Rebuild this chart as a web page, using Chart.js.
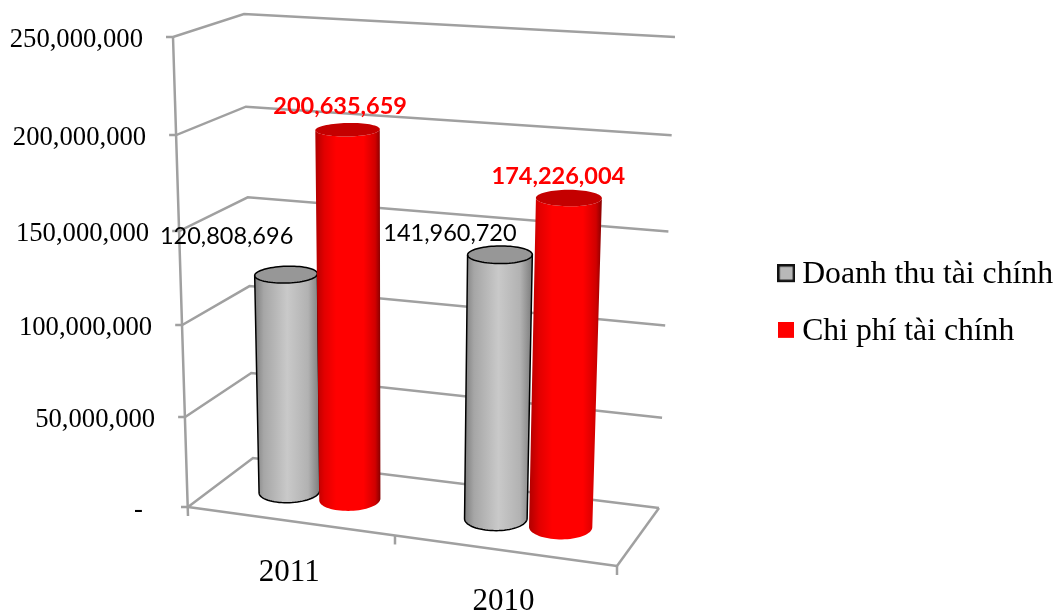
<!DOCTYPE html>
<html>
<head>
<meta charset="utf-8">
<title>Doanh thu và chi phí tài chính</title>
<script src="https://cdn.jsdelivr.net/npm/chart.js@4/dist/chart.umd.js"></script>
<style>
	html, body { margin: 0; padding: 0; background: #fff; }
	canvas { display: block; }
</style>
</head>
<body>
<canvas id="financeChart" width="1057" height="612"></canvas>
<script>
var categories = ['2011', '2010'];
var revenue = [120808696, 141960720];
var expense = [200635659, 174226004];
var yTickLabels = ['-', '50,000,000', '100,000,000', '150,000,000', '200,000,000', '250,000,000'];
var seriesNames = ['Doanh thu tài chính', 'Chi phí tài chính'];

var SERIF = '"Liberation Serif", serif';
var GRID = '#a0a0a0';

// box corners of the 3D scene, named by front/back, left/right, floor/roof
var box = {
	flf: [188, 507], frf: [617, 566], blf: [253, 458], brf: [659, 508],
	flr: [173, 37], frr: [636, 67], blr: [244, 14], brr: [675, 37]
};

var RADIUS_DEPTH = 0.21;
var BAR_DEPTH = 0.5;

// value label offsets from the centre of each cap, per dataset and category
var labelOffsets = [
	[[-59.5, -31], [-50, -14]],
	[[-7.5, -16], [-10.5, -14]]
];

function warp(t, k) {
	return t / (1 + k * (1 - t));
}

function mix(a, b, t) {
	return [a[0] + (b[0] - a[0]) * t, a[1] + (b[1] - a[1]) * t];
}

// u across, v up, d into the scene, all 0..1
function project(u, v, d) {
	var gu = warp(u, 0.0725), gv = warp(v, 0.055);
	var floor = mix(mix(box.flf, box.frf, gu), mix(box.blf, box.brf, gu), d);
	var roof = mix(mix(box.flr, box.frr, gu), mix(box.blr, box.brr, gu), d);
	return mix(floor, roof, gv);
}

function line(ctx, a, b) {
	ctx.beginPath();
	ctx.moveTo(a[0], a[1]);
	ctx.lineTo(b[0], b[1]);
	ctx.stroke();
}

function drawScene(chart, ctx) {
	var area = chart.chartArea;
	var yScale = chart.scales.y;
	var xScale = chart.scales.x;

	ctx.strokeStyle = GRID;
	ctx.lineWidth = 2.5;
	ctx.lineCap = 'butt';

	// walls: every y tick runs along the left wall then the back wall
	yScale.ticks.forEach(function(tick) {
		var v = (area.bottom - yScale.getPixelForValue(tick.value)) / area.height;
		var front = project(0, v, 0);
		var corner = project(0, v, 1);
		var right = project(1, v, 1);
		ctx.beginPath();
		ctx.moveTo(front[0] - 7, front[1]);
		ctx.lineTo(front[0], front[1]);
		ctx.lineTo(corner[0], corner[1]);
		ctx.lineTo(right[0], right[1]);
		ctx.stroke();
	});

	// axis and floor edges
	line(ctx, project(0, 1, 0), [box.flf[0], box.flf[1] + 9]);
	line(ctx, box.flf, box.frf);
	line(ctx, box.frf, box.brf);

	// category separators under the front edge
	[0.5, 1].forEach(function(u) {
		var p = project(u, 0, 0);
		line(ctx, p, [p[0], p[1] + 9]);
	});

	// y tick labels
	ctx.fillStyle = '#000';
	ctx.textAlign = 'right';
	ctx.textBaseline = 'alphabetic';
	ctx.font = '26.67px ' + SERIF;
	yScale.ticks.forEach(function(tick) {
		var v = (area.bottom - yScale.getPixelForValue(tick.value)) / area.height;
		var p = project(0, v, 0);
		var gap = tick.value === 0 ? 45 : 30;
		ctx.fillText(tick.label, p[0] - gap, p[1] + 10);
	});

	// category labels
	ctx.textAlign = 'center';
	ctx.font = '31px ' + SERIF;
	categories.forEach(function(name, i) {
		var u = (xScale.getPixelForTick(i) - area.left) / area.width;
		var p = project(u, 0, 0);
		ctx.fillText(xScale.getLabelForValue(i), p[0] - 0.5, p[1] + 60);
	});
}

// outline of a bar end, sampled as a circle lying in the scene
function ring(uc, ur, v) {
	var pts = [];
	for (var i = 0; i < 72; i++) {
		var a = i / 72 * Math.PI * 2;
		pts.push(project(uc + ur * Math.cos(a), v, BAR_DEPTH + RADIUS_DEPTH * Math.sin(a)));
	}
	return pts;
}

function extremes(pts) {
	var lo = 0, hi = 0;
	pts.forEach(function(p, i) {
		if (p[0] < pts[lo][0]) lo = i;
		if (p[0] > pts[hi][0]) hi = i;
	});
	return { lo: lo, hi: hi };
}

// points of the near half of a ring, from its left extreme round to its right extreme
function nearArc(pts) {
	var ext = extremes(pts);
	var arc = [];
	var i = ext.lo;
	var n = pts.length;
	// walk whichever way passes the lower points
	var step = pts[(i + 1) % n][1] > pts[(i + n - 1) % n][1] ? 1 : -1;
	while (i !== ext.hi) {
		arc.push(pts[i]);
		i = (i + step + n) % n;
	}
	arc.push(pts[ext.hi]);
	return arc;
}

function tracePoly(ctx, pts) {
	pts.forEach(function(p) {
		ctx.lineTo(p[0], p[1]);
	});
}

var palettes = [
	{
		body: [[0, '#7e7e7e'], [0.14, '#a6a6a6'], [0.5, '#c9c9c9'], [0.82, '#b2b2b2'], [1, '#7c7c7c']],
		cap: '#979797',
		outline: '#000'
	},
	{
		body: [[0, '#b00000'], [0.14, '#e20000'], [0.32, '#ff0000'], [0.74, '#ff0000'], [0.92, '#d00000'], [1, '#860000']],
		cap: '#c40000',
		outline: null
	}
];

function drawCylinder(ctx, chart, bar, style) {
	var area = chart.chartArea;
	var uc = (bar.x - area.left) / area.width;
	var ur = bar.width / area.width / 2;
	var v = (area.bottom - bar.y) / area.height;

	var bottom = nearArc(ring(uc, ur, 0));
	var topRing = ring(uc, ur, v);
	var top = nearArc(topRing);

	var x0 = Math.min(bottom[0][0], top[0][0]);
	var x1 = Math.max(bottom[bottom.length - 1][0], top[top.length - 1][0]);
	var grad = ctx.createLinearGradient(x0, 0, x1, 0);
	style.body.forEach(function(stop) {
		grad.addColorStop(stop[0], stop[1]);
	});

	ctx.beginPath();
	tracePoly(ctx, bottom);
	tracePoly(ctx, top.slice().reverse());
	ctx.closePath();
	ctx.fillStyle = grad;
	ctx.fill();

	ctx.beginPath();
	tracePoly(ctx, topRing);
	ctx.closePath();
	ctx.fillStyle = style.cap;
	ctx.fill();

	if (style.outline) {
		ctx.strokeStyle = style.outline;
		ctx.lineWidth = 1.5;
		ctx.stroke();
		ctx.beginPath();
		ctx.moveTo(top[0][0], top[0][1]);
		tracePoly(ctx, bottom);
		ctx.lineTo(top[top.length - 1][0], top[top.length - 1][1]);
		ctx.stroke();
	}
}

function drawBars(chart, ctx) {
	var area = chart.chartArea;
	chart.data.datasets.forEach(function(dataset, di) {
		chart.getDatasetMeta(di).data.forEach(function(bar, i) {
			drawCylinder(ctx, chart, bar, palettes[di]);
		});
	});

	// value labels on top of all the bars
	ctx.textAlign = 'center';
	ctx.textBaseline = 'alphabetic';
	chart.data.datasets.forEach(function(dataset, di) {
		chart.getDatasetMeta(di).data.forEach(function(bar, i) {
			var uc = (bar.x - area.left) / area.width;
			var v = (area.bottom - bar.y) / area.height;
			var cap = project(uc, v, BAR_DEPTH);
			var off = labelOffsets[di][i];
			ctx.font = (di === 1 ? 'bold ' : '') + '23.5px Lato, sans-serif';
			ctx.fillStyle = di === 1 ? '#ff0000' : '#000';
			ctx.fillText(dataset.data[i].toLocaleString('en-US'), cap[0] + off[0], cap[1] + off[1]);
		});
	});
}

var scene3d = {
	id: 'scene3d',
	beforeDatasetsDraw: function(chart) {
		var ctx = chart.ctx;
		ctx.save();
		drawScene(chart, ctx);
		drawBars(chart, ctx);
		ctx.restore();
		return false;
	}
};

// legend mark, with spare room underneath so it sits a little above the text centre
function swatch(size, fill, border) {
	var c = document.createElement('canvas');
	c.width = size;
	c.height = size + 3;
	var g = c.getContext('2d');
	g.fillStyle = fill;
	g.fillRect(0, 0, size, size);
	if (border) {
		g.strokeStyle = border;
		g.lineWidth = 2.5;
		g.strokeRect(1.25, 1.25, size - 2.5, size - 2.5);
	}
	return c;
}

var legendMarks = [swatch(18, '#b8b8b8', '#111'), swatch(16, '#ff0000', null)];

var financeChart = new Chart(document.getElementById('financeChart').getContext('2d'), {
	type: 'bar',
	data: {
		labels: categories,
		datasets: [{
			label: seriesNames[0],
			backgroundColor: '#b8b8b8',
			data: revenue
		}, {
			label: seriesNames[1],
			backgroundColor: '#ff0000',
			data: expense
		}]
	},
	options: {
		responsive: false,
		animation: false,
		events: [],
		layout: { padding: { top: 0, right: -6, bottom: 6, left: 10 } },
		datasets: { bar: { categoryPercentage: 0.6, barPercentage: 0.92 } },
		scales: {
			x: { display: false },
			y: {
				display: false,
				min: 0,
				max: 250000000,
				ticks: {
					stepSize: 50000000,
					callback: function(value, index) {
						return yTickLabels[index];
					}
				}
			}
		},
		plugins: {
			tooltip: { enabled: false },
			title: { display: false },
			legend: {
				position: 'right',
				labels: {
					font: { family: SERIF, size: 31.7 },
					color: '#000',
					padding: 25,
					usePointStyle: true,
					pointStyleWidth: 0.3,
					generateLabels: function(chart) {
						return chart.data.datasets.map(function(dataset, i) {
							return {
								text: dataset.label,
								fillStyle: dataset.backgroundColor,
								strokeStyle: dataset.backgroundColor,
								lineWidth: 0,
								pointStyle: legendMarks[i],
								hidden: false,
								datasetIndex: i
							};
						});
					}
				}
			}
		}
	},
	plugins: [scene3d]
});
</script>
</body>
</html>
